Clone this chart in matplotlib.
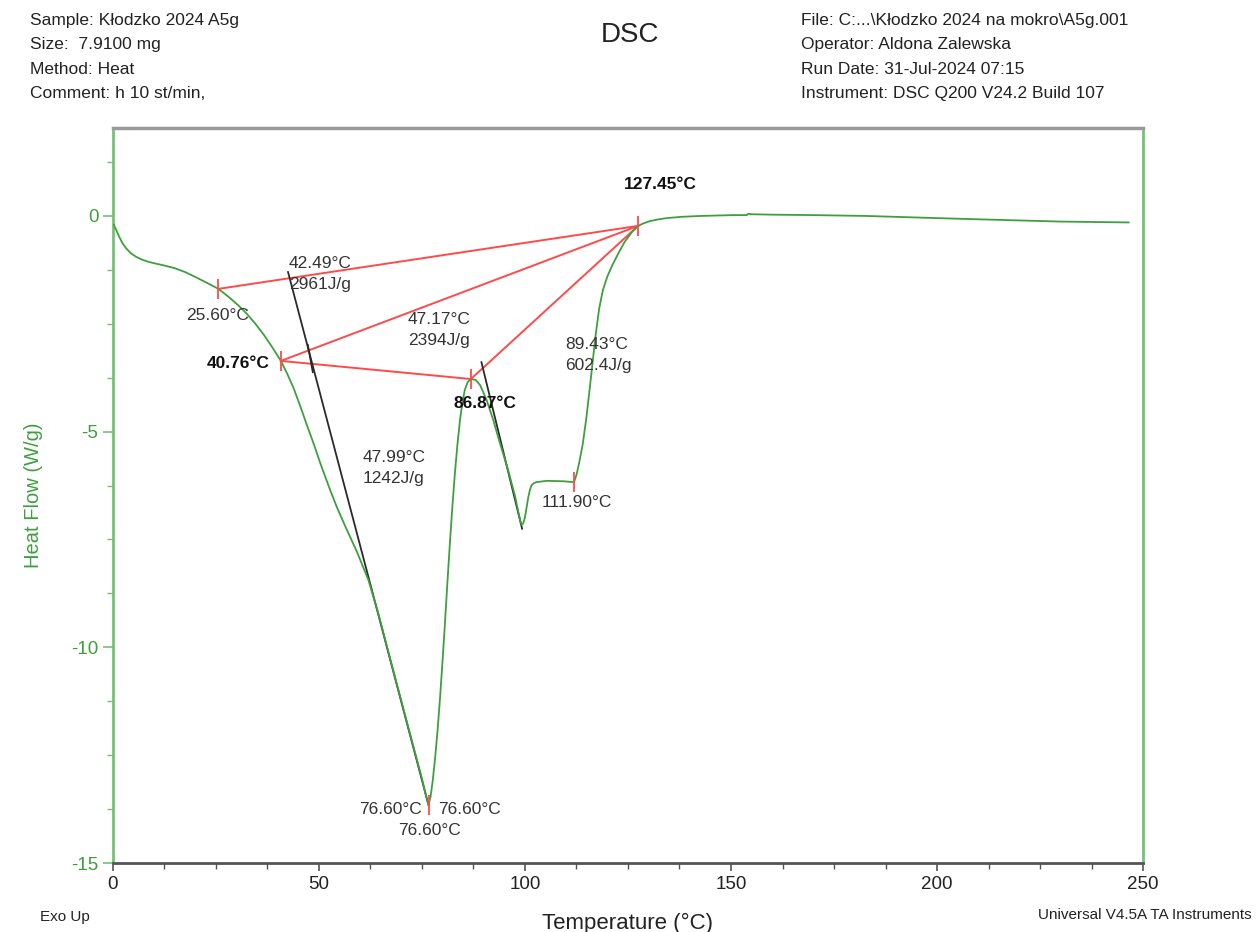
import matplotlib
matplotlib.use("Agg")
import matplotlib.pyplot as plt
from matplotlib.ticker import MultipleLocator

plt.rcParams['font.family'] = ['Liberation Sans', 'DejaVu Sans']
plt.rcParams['axes.unicode_minus'] = False

# DSC curve (temperature degC, heat flow W/g)
temp = [0.2, 0.8, 1.5, 2.3, 3.2, 4.3, 5.5, 7.0, 8.5, 10.2, 12.5, 15.0, 17.5, 19.9,
        22.8, 25.6, 28.0, 30.4, 32.5, 34.5, 36.5, 38.5, 40.76, 42.3, 43.8, 45.5,
        47.0, 48.6, 50.5, 52.5, 54.3, 56.5, 59.1, 62.0, 64.5, 68.0, 72.0, 75.0,
        76.0, 76.6, 77.1, 77.6, 78.2, 78.8, 79.4, 80.0, 80.6, 81.2, 81.8, 82.4,
        83.0, 83.6, 84.2, 84.8, 85.4, 86.1, 86.87, 88.0, 89.1, 90.7, 92.3, 93.9,
        95.9, 97.6, 98.8, 99.2, 99.6, 100.0, 100.4, 100.8, 101.2, 101.6, 102.2,
        102.8, 105.3, 109.3, 111.9, 112.5, 113.2, 114.0, 114.8, 115.6, 116.4,
        117.2, 118.0, 118.9, 120.0, 121.3, 122.7, 124.2, 125.9, 127.45, 128.8,
        130.3, 132.3, 134.4, 138.0, 142.5, 150.5, 153.8, 154.2, 155.0, 160.0,
        170.0, 183.0, 200.0, 211.0, 230.0, 246.5]
heat_flow = [-0.20, -0.33, -0.48, -0.63, -0.75, -0.86, -0.94, -1.01, -1.06, -1.10, -1.15, -1.21, -1.30, -1.41,
             -1.55, -1.69, -1.87, -2.07, -2.27, -2.49, -2.74, -3.02, -3.36, -3.66, -3.98, -4.42,
             -4.83, -5.25, -5.78, -6.30, -6.74, -7.22, -7.76, -8.44, -9.25, -10.53, -11.97, -13.05,
             -13.45, -13.66, -13.45, -13.10, -12.55, -11.90, -11.15, -10.30, -9.40, -8.45, -7.55, -6.70,
             -5.95, -5.30, -4.75, -4.33, -4.03, -3.85, -3.78, -3.80, -3.92, -4.27, -4.73, -5.26,
             -5.89, -6.50, -7.05, -7.16, -7.12, -6.98, -6.75, -6.52, -6.35, -6.24, -6.19,
             -6.17, -6.14, -6.15, -6.17, -6.00, -5.70, -5.30, -4.75, -4.10, -3.40,
             -2.72, -2.15, -1.72, -1.40, -1.12, -0.86, -0.60, -0.38, -0.23, -0.17,
             -0.12, -0.08, -0.05, -0.02, 0.00, 0.02, 0.02, 0.05, 0.04, 0.03,
             0.02, 0.00, -0.05, -0.08, -0.13, -0.15]

# analysis points (red ticks)
ev_t = [25.60, 40.76, 86.87, 127.45, 111.90, 76.60]
ev_hf = [-1.69, -3.36, -3.78, -0.23, -6.17, -13.66]
# baselines as pairs of event indices
baselines = [(0, 3), (1, 3), (1, 2), (2, 3)]

# onset tangents (black)
tan1_t = [42.49, 76.60]
tan1_hf = [-1.30, -13.66]
tan2_t = [89.43, 99.30]
tan2_hf = [-3.39, -7.25]
tick1_t = [47.3, 48.5]
tick1_hf = [-2.99, -3.62]

green = '#3f9f3f'
red = '#ff4a4a'

fig = plt.figure(figsize=(12.58, 9.32), dpi=100)
ax = fig.add_axes([0.0898, 0.074, 0.8188, 0.7887])

ax.plot(temp, heat_flow, color=green, lw=1.3, zorder=3, solid_joinstyle='round')

for i, j in baselines:
    ax.plot([ev_t[i], ev_t[j]], [ev_hf[i], ev_hf[j]], color=red, lw=1.4, zorder=2)
ax.plot(ev_t, ev_hf, ls='none', marker='|', ms=14, mew=1.3, color=red, zorder=4)

ax.plot(tan1_t, tan1_hf, color='#2a2a2a', lw=1.3, zorder=2)
ax.plot(tan2_t, tan2_hf, color='#2a2a2a', lw=1.3, zorder=2)
ax.plot(tick1_t, tick1_hf, color='#2a2a2a', lw=1.3, zorder=2)

fs = 12.5
tc = '#333333'
ls = 1.5
ax.text(42.7, -1.34, '42.49°C\n2961J/g', fontsize=fs, color=tc, va='center', ha='left', linespacing=ls)
ax.text(25.5, -2.30, '25.60°C', fontsize=fs, color=tc, va='center', ha='center')
ax.text(38.1, -3.41, '40.76°C', fontsize=fs, color='#111111', va='center', ha='right', fontweight='bold')
ax.text(71.6, -2.64, '47.17°C\n2394J/g', fontsize=fs, color=tc, va='center', ha='left', linespacing=ls)
ax.text(90.4, -4.34, '86.87°C', fontsize=fs, color='#111111', va='center', ha='center', fontweight='bold')
ax.text(109.7, -3.22, '89.43°C\n602.4J/g', fontsize=fs, color=tc, va='center', ha='left', linespacing=ls)
ax.text(60.6, -5.84, '47.99°C\n1242J/g', fontsize=fs, color=tc, va='center', ha='left', linespacing=ls)
ax.text(104.0, -6.65, '111.90°C', fontsize=fs, color=tc, va='center', ha='left')
ax.text(74.9, -13.77, '76.60°C', fontsize=fs, color=tc, va='center', ha='right')
ax.text(79.0, -13.77, '76.60°C', fontsize=fs, color=tc, va='center', ha='left')
ax.text(76.9, -14.24, '76.60°C', fontsize=fs, color=tc, va='center', ha='center')
ax.text(132.8, 0.72, '127.45°C', fontsize=fs, color='#111111', va='center', ha='center', fontweight='bold')

ax.set_xlim(0, 250)
ax.set_ylim(-15, 2.04)
ax.xaxis.set_major_locator(MultipleLocator(50))
ax.xaxis.set_minor_locator(MultipleLocator(12.5))
ax.set_yticks([-15, -10, -5, 0])
ax.yaxis.set_minor_locator(MultipleLocator(1.25))

ax.spines['left'].set_color('#74c274')
ax.spines['right'].set_color('#74c274')
ax.spines['left'].set_linewidth(2)
ax.spines['right'].set_linewidth(2)
ax.spines['top'].set_color('#9a9a9a')
ax.spines['top'].set_linewidth(2.5)
ax.spines['bottom'].set_color('#555555')
ax.spines['bottom'].set_linewidth(2)

ax.tick_params(axis='y', which='major', colors='#74c274', labelcolor=green, labelsize=13.5, length=7, width=1.2)
ax.tick_params(axis='y', which='minor', colors='#74c274', length=4, width=1)
ax.tick_params(axis='x', which='major', colors='#555555', labelcolor='#222222', labelsize=13.5, length=6, width=1.2)
ax.tick_params(axis='x', which='minor', colors='#555555', length=4, width=1)

ax.set_xlabel('Temperature (°C)', fontsize=16, color='#222222', labelpad=14)
ax.set_ylabel('Heat Flow (W/g)', fontsize=14.5, color=green, labelpad=20)

hdr = 12.5
left_lines = ['Sample: Kłodzko 2024 A5g', 'Size:  7.9100 mg', 'Method: Heat', 'Comment: h 10 st/min,']
right_lines = ['File: C:...\\Kłodzko 2024 na mokro\\A5g.001', 'Operator: Aldona Zalewska',
               'Run Date: 31-Jul-2024 07:15', 'Instrument: DSC Q200 V24.2 Build 107']
for k, (l, r) in enumerate(zip(left_lines, right_lines)):
    yy = 1 - (20 + 24.5 * k) / 932
    fig.text(30 / 1258, yy, l, fontsize=hdr, color='#222222', va='center', ha='left')
    fig.text(801 / 1258, yy, r, fontsize=hdr, color='#222222', va='center', ha='left')
fig.text(630 / 1258, 1 - 35 / 932, 'DSC', fontsize=20, color='#222222', va='center', ha='center')
fig.text(40 / 1258, 1 - 917 / 932, 'Exo Up', fontsize=11, color='#222222', va='center', ha='left')
fig.text(1252 / 1258, 1 - 915 / 932, 'Universal V4.5A TA Instruments', fontsize=11, color='#222222',
         va='center', ha='right')

fig.savefig('out.png', dpi=100)
